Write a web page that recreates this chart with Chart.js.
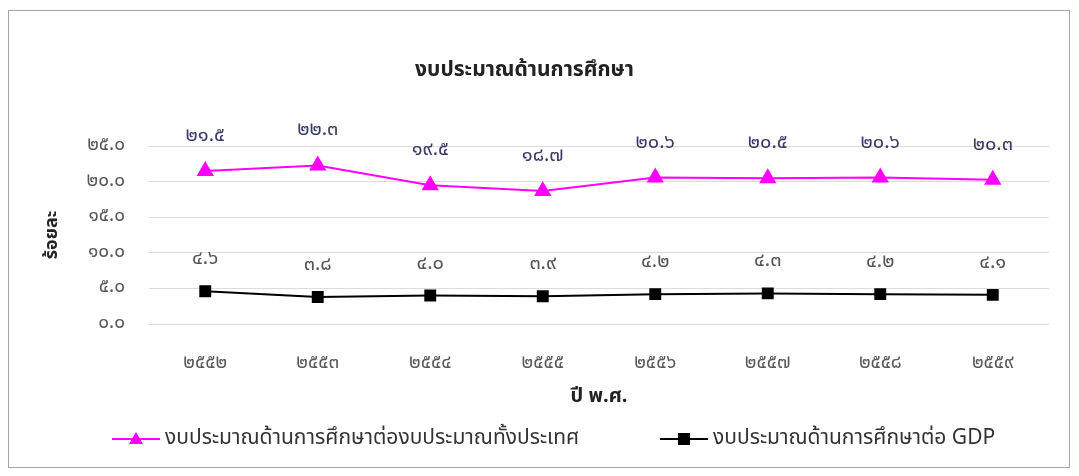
<!DOCTYPE html>
<html>
<head>
<meta charset="utf-8">
<script src="https://cdn.jsdelivr.net/npm/chart.js@4.4.0/dist/chart.umd.min.js"></script>
<style>
  html, body { margin: 0; padding: 0; background: #fff; }
  #wrap { position: relative; width: 1079px; height: 476px; }
</style>
</head>
<body>
<div id="wrap"><canvas id="eduChart"></canvas></div>
<script>
// ข้อมูล
const years = ['๒๕๕๒', '๒๕๕๓', '๒๕๕๔', '๒๕๕๕', '๒๕๕๖', '๒๕๕๗', '๒๕๕๘', '๒๕๕๙'];
const shareOfBudget = [21.5, 22.3, 19.5, 18.7, 20.6, 20.5, 20.6, 20.3];
const shareOfGdp = [4.6, 3.8, 4.0, 3.9, 4.2, 4.3, 4.2, 4.1];
const yTicks = [0, 5, 10, 15, 20, 25];

const budgetLabel = 'งบประมาณด้านการศึกษาต่องบประมาณทั้งประเทศ';
const gdpLabel = 'งบประมาณด้านการศึกษาต่อ GDP';

const FONT = "'Noto Sans Thai', 'Tahoma', 'Leelawadee UI', 'DejaVu Sans', sans-serif";

function toThai(str) {
    const digits = ['๐', '๑', '๒', '๓', '๔', '๕', '๖', '๗', '๘', '๙'];
    return String(str).replace(/[0-9]/g, d => digits[d]);
}

// กรอบรอบภาพ + ป้ายค่า + คำอธิบาย
const decorPlugin = {
    id: 'decor',
    beforeDraw(chart) {
        const ctx = chart.ctx;
        ctx.save();
        ctx.strokeStyle = '#a6a6a6';
        ctx.lineWidth = 1;
        ctx.strokeRect(8.5, 10.5, 1061, 457);
        ctx.restore();
    },
    afterDatasetsDraw(chart) {
        const ctx = chart.ctx;
        ctx.save();
        ctx.font = '20px ' + FONT;
        ctx.textAlign = 'center';
        ctx.textBaseline = 'middle';
        const colors = ['#3b3b6b', '#555555'];
        const offsets = [34, 31];
        chart.data.datasets.forEach((ds, i) => {
            const meta = chart.getDatasetMeta(i);
            ctx.fillStyle = colors[i];
            meta.data.forEach((pt, j) => {
                ctx.fillText(toThai(ds.data[j].toFixed(1)), pt.x, pt.y - offsets[i]);
            });
        });

        // คำอธิบายด้านล่าง
        const y = 439;
        const items = [
            { x: 112, text: budgetLabel, color: '#ff00ff', style: 'triangle' },
            { x: 660, text: gdpLabel, color: '#000000', style: 'rect' }
        ];
        ctx.font = '21px ' + FONT;
        ctx.textAlign = 'left';
        items.forEach(it => {
            ctx.strokeStyle = it.color;
            ctx.lineWidth = 2;
            ctx.beginPath();
            ctx.moveTo(it.x, y);
            ctx.lineTo(it.x + 48, y);
            ctx.stroke();
            ctx.fillStyle = it.color;
            const cx = it.x + 24;
            ctx.beginPath();
            if (it.style === 'triangle') {
                ctx.moveTo(cx, y - 7);
                ctx.lineTo(cx + 7, y + 5);
                ctx.lineTo(cx - 7, y + 5);
            } else {
                ctx.rect(cx - 6, y - 6, 12, 12);
            }
            ctx.closePath();
            ctx.fill();
            ctx.fillStyle = '#333333';
            ctx.fillText(it.text, it.x + 53, y + 1);
        });
        ctx.restore();
    }
};

const ctx = document.getElementById('eduChart').getContext('2d');
window.eduChart = new Chart(ctx, {
    type: 'line',
    data: {
        labels: years,
        datasets: [{
            label: budgetLabel,
            data: shareOfBudget,
            borderColor: '#ff00ff',
            backgroundColor: '#ff00ff',
            borderWidth: 2,
            pointStyle: 'triangle',
            pointRadius: 8,
            pointHoverRadius: 8,
            fill: false
        }, {
            label: gdpLabel,
            data: shareOfGdp,
            borderColor: '#000000',
            backgroundColor: '#000000',
            borderWidth: 2,
            pointStyle: 'rect',
            pointRadius: 7,
            pointHoverRadius: 7,
            fill: false
        }]
    },
    options: {
        responsive: true,
        maintainAspectRatio: false,
        animation: false,
        layout: { padding: { left: 0, right: 30, top: 0, bottom: 52 } },
        plugins: {
            legend: { display: false },
            tooltip: { enabled: false },
            title: {
                display: true,
                text: 'งบประมาณด้านการศึกษา',
                color: '#222222',
                font: { family: FONT, size: 21, weight: 'bold' },
                padding: { top: 59, bottom: 62 }
            }
        },
        scales: {
            x: {
                offset: true,
                grid: { display: false },
                border: { display: false },
                ticks: { color: '#595959', font: { family: FONT, size: 19 }, padding: 21, maxRotation: 0 },
                title: {
                    display: true,
                    text: 'ปี พ.ศ.',
                    color: '#222222',
                    font: { family: FONT, size: 20, weight: 'bold' },
                    padding: { bottom: 14 }
                },
                afterFit(scale) { scale.height = 100; }
            },
            y: {
                min: 0,
                max: 25,
                afterBuildTicks(scale) { scale.ticks = yTicks.map(v => ({ value: v })); },
                grid: { color: '#dcdcdc', drawTicks: false, lineWidth: 1 },
                border: { display: false },
                ticks: {
                    color: '#595959',
                    font: { family: FONT, size: 19 },
                    padding: 24,
                    callback: v => toThai(Number(v).toFixed(1))
                },
                title: {
                    display: true,
                    text: 'ร้อยละ',
                    color: '#222222',
                    font: { family: FONT, size: 18, weight: 'bold' },
                    padding: { top: 43 }
                },
                afterFit(scale) { scale.width = 149; }
            }
        }
    },
    plugins: [decorPlugin]
});
</script>
</body>
</html>
